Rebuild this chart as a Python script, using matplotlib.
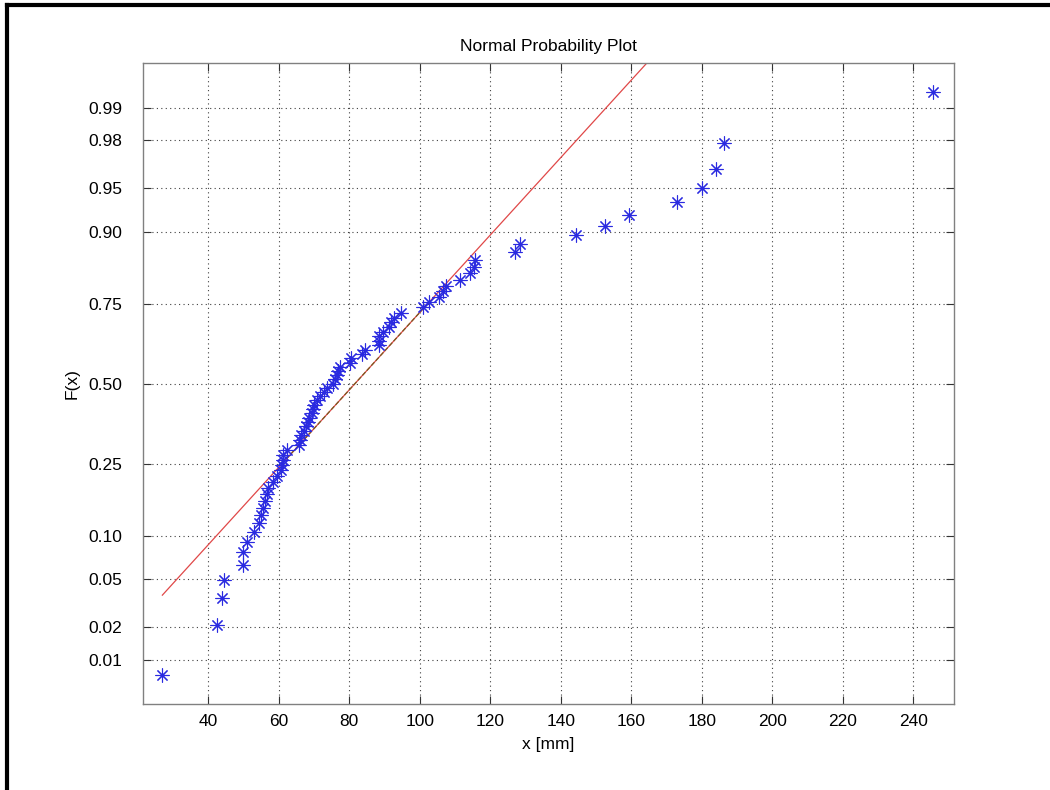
"""
Normal probability plot of x [mm] (MATLAB normplot look-alike).
"""

from statistics import NormalDist

import numpy as np
import matplotlib
matplotlib.use("Agg")
import matplotlib.pyplot as plt
from matplotlib.lines import Line2D

# ------------------------------------------------------------------
# Data (sorted sample)
# ------------------------------------------------------------------
x_mm = [27.0, 42.6, 43.8, 44.4, 49.8, 49.8, 51.0, 53.0, 54.5, 54.9,
        55.4, 56.1, 56.6, 57.0, 58.5, 59.4, 60.6, 60.9, 61.1, 61.3,
        62.3, 65.7, 66.0, 66.2, 67.2, 67.7, 68.2, 68.7, 69.3, 69.8,
        70.1, 70.8, 71.8, 72.8, 73.8, 75.4, 75.9, 76.4, 76.9, 77.4,
        80.2, 80.4, 83.5, 84.5, 88.3, 88.3, 88.5, 89.7, 91.4, 91.9,
        92.7, 94.6, 101.0, 102.7, 105.5, 106.7, 107.4, 111.4, 114.2, 115.4,
        115.6, 126.9, 128.4, 144.3, 152.6, 159.3, 172.9, 180.1, 184.0, 186.3,
        245.6]

prob_ticks = [0.01, 0.02, 0.05, 0.10, 0.25, 0.50, 0.75, 0.90, 0.95, 0.98, 0.99]
prob_labels = ["0.01", "0.02", "0.05", "0.10", "0.25", "0.50",
               "0.75", "0.90", "0.95", "0.98", "0.99"]
x_ticks = [40, 60, 80, 100, 120, 140, 160, 180, 200, 220, 240]

nd = NormalDist()


def prctile(v, p):
    # MATLAB style percentile: positions at (i-0.5)/n
    v = np.sort(np.asarray(v))
    n = len(v)
    pos = p * n + 0.5
    lo = int(np.floor(pos))
    frac = pos - lo
    return v[lo - 1] + frac * (v[lo] - v[lo - 1])


# ------------------------------------------------------------------
# Plotting positions and robust quartile line
# ------------------------------------------------------------------
x = np.sort(np.array(x_mm))
n = len(x)
z = np.array([nd.inv_cdf((i - 0.5) / n) for i in range(1, n + 1)])

q1, q3 = prctile(x, 0.25), prctile(x, 0.75)
z1, z3 = nd.inv_cdf(0.25), nd.inv_cdf(0.75)
slope = (z3 - z1) / (q3 - q1)
line_x = np.array([x.min(), x.max()])
line_z = z1 + slope * (line_x - q1)

# ------------------------------------------------------------------
# Figure
# ------------------------------------------------------------------
plt.rcParams["font.family"] = ["Liberation Sans", "DejaVu Sans"]
fig = plt.figure(figsize=(10.5, 7.9), dpi=100)

# black frame on left and top like the reference screenshot
fig.add_artist(Line2D([0.0068, 0.0068], [0, 0.994], color="black", lw=3,
                      transform=fig.transFigure))
fig.add_artist(Line2D([0.0068, 1.0], [0.994, 0.994], color="black", lw=3,
                      transform=fig.transFigure))

ax = fig.add_axes([0.1365, 0.1089, 0.7721, 0.811])

ax.plot(line_x, line_z, "-", color="#e04848", lw=0.9, zorder=2)
ax.plot([q1, q3], [z1, z3], "--", color="#7a5a20", lw=0.9, zorder=3)

asterisk = (8, 2, 0)
ax.plot(x, z, linestyle="none", marker=asterisk, markersize=10,
        markeredgecolor="#2a2ae0", markeredgewidth=0.8, zorder=4)

ax.set_xlim(21.6, 251.5)
ax.set_ylim(-2.70, 2.70)
ax.set_xticks(x_ticks)
ax.set_xticklabels([str(t) for t in x_ticks])
ax.set_yticks([nd.inv_cdf(p) for p in prob_ticks])
ax.set_yticklabels(prob_labels)

ax.grid(True, linestyle=(0, (1, 3)), color="#404040", lw=0.8)
ax.tick_params(direction="in", top=True, right=True, length=6,
               labelsize=12.5, colors="#333333", labelcolor="black")
ax.tick_params(axis="x", pad=7)
ax.tick_params(axis="y", pad=15)
for s in ax.spines.values():
    s.set_color("#808080")
    s.set_linewidth(1.0)

ax.set_title("Normal Probability Plot", fontsize=12.5, pad=9)
ax.set_xlabel("x [mm]", fontsize=12.5)
ax.set_ylabel("F(x)", fontsize=12.5)
ax.xaxis.set_label_coords(0.5, -0.051)
ax.yaxis.set_label_coords(-0.078, 0.5)

fig.savefig("out.png", dpi=100)
plt.close(fig)
